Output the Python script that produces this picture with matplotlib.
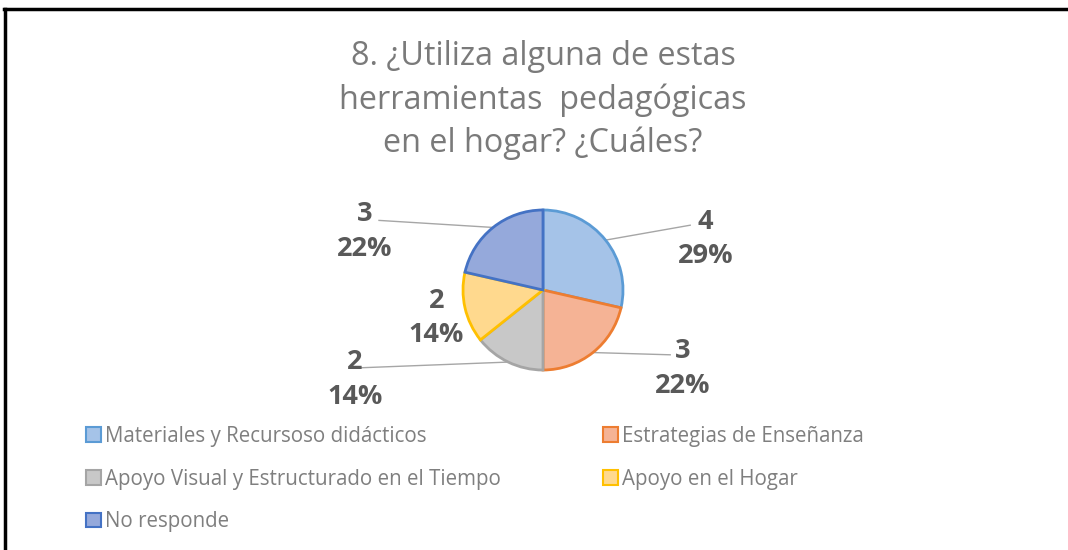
import matplotlib
matplotlib.use("Agg")
import matplotlib.pyplot as plt
from matplotlib.patches import Patch
from matplotlib.lines import Line2D
import numpy as np

title = "8. ¿Utiliza alguna de estas\nherramientas  pedagógicas\nen el hogar? ¿Cuáles?"
categories = ["Materiales y Recursoso didácticos", "Estrategias de Enseñanza",
              "Apoyo Visual y Estructurado en el Tiempo", "Apoyo en el Hogar",
              "No responde"]
values = [4, 3, 2, 2, 3]
percent_labels = ["29%", "22%", "14%", "14%", "22%"]

fills = ["#A5C3E8", "#F5B395", "#C8C8C8", "#FFD98E", "#95A9DB"]
edges = ["#5B9BD5", "#ED7D31", "#A5A5A5", "#FFC000", "#4472C4"]

W, H = 1068, 550
fig = plt.figure(figsize=(W / 100, H / 100), dpi=100)
fig.patch.set_facecolor("white")

cx, cy, R = 543, 290, 80  # pie center and radius in pixels
ax = fig.add_axes([0, 0, 1, 1])
wedges, _ = ax.pie(values, colors=fills, startangle=90, counterclock=False,
                   radius=1.0, wedgeprops=dict(linewidth=2.0))
for w, e in zip(wedges, edges):
    w.set_edgecolor(e)
ax.set_xlim(-cx / R, (W - cx) / R)
ax.set_ylim(-(H - cy) / R, cy / R)
ax.set_aspect("auto")
ax.axis("off")

# label placement (in radius units relative to pie centre) and leader ends
label_pos = [(2.03, 0.64), (1.75, -0.98), (-2.35, -1.12), (-1.33, -0.35), (-2.23, 0.73)]
leader_end = [(1.84, 0.81), (1.59, -0.81), (-2.35, -0.975), None, (-2.05, 0.87)]

lab_color = "#595959"
for i, w in enumerate(wedges):
    mid = np.deg2rad((w.theta1 + w.theta2) / 2)
    x, y = label_pos[i]
    ax.text(x, y, f"{values[i]}\n{percent_labels[i]}", ha="center", va="center",
            fontsize=19.5, fontweight="bold", color=lab_color, family="Open Sans",
            linespacing=1.42)
    if leader_end[i] is not None:
        sx, sy = np.cos(mid), np.sin(mid)
        ex, ey = leader_end[i]
        ax.plot([sx, ex], [sy, ey], color="#A6A6A6", lw=1.0, zorder=0)

# title
fig.text(543 / W, 1 - 100 / H, title, ha="center", va="center", fontsize=23.3,
         color="#7A7A7A", family="Open Sans", linespacing=1.40)

# legend
handles = [Patch(facecolor=f, edgecolor=e, linewidth=1.5) for f, e in zip(fills, edges)]
leg_kw = dict(frameon=False, handlelength=0.72, handleheight=0.72,
              handletextpad=0.22, labelspacing=1.05, borderpad=0, borderaxespad=0,
              labelcolor="#7F7F7F", prop=dict(family="Open Sans", size=14.8))
idx1 = [0, 2, 4]
idx2 = [1, 3]
leg1 = fig.legend([handles[i] for i in idx1], [categories[i] for i in idx1],
                  loc="upper left", bbox_to_anchor=(86 / W, 1 - 426 / H), **leg_kw)
leg2 = fig.legend([handles[i] for i in idx2], [categories[i] for i in idx2],
                  loc="upper left", bbox_to_anchor=(603 / W, 1 - 426 / H), **leg_kw)

# border (top and left only, as cropped)
fig.add_artist(Line2D([4 / W, 1], [1 - 9 / H, 1 - 9 / H], color="black", lw=2.5,
                      transform=fig.transFigure))
fig.add_artist(Line2D([5 / W, 5 / W], [0, 1 - 9 / H], color="black", lw=2.5,
                      transform=fig.transFigure))

fig.savefig("out.png", dpi=100, facecolor="white")
